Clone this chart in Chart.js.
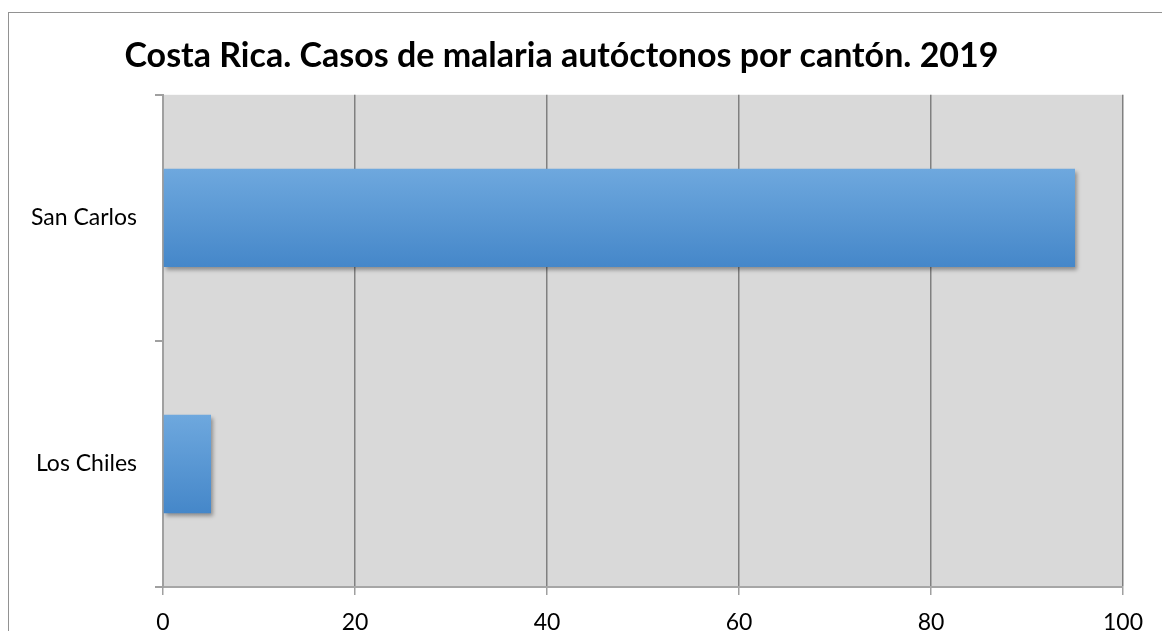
<!DOCTYPE html>
<html>
<head>
<meta charset="utf-8">
<script src="https://cdn.jsdelivr.net/npm/chart.js@4"></script>
<style>
  body { margin: 0; background: #fff; overflow: hidden; }
  #marco {
    position: absolute; left: 8px; top: 12px; width: 2000px; height: 2000px;
    border-left: 1px solid #929292; border-top: 1px solid #929292;
  }
  #wrap { position: absolute; left: 0; top: 0; width: 1176px; height: 631px; }
</style>
</head>
<body>
<div id="marco"></div>
<div id="wrap"><canvas id="chart-1"></canvas></div>
<script>
const cantones = ["San Carlos", "Los Chiles"];
const casos = [95, 5];
const titulo = "Costa Rica. Casos de malaria autóctonos por cantón. 2019";

// fondo gris del área de trazado
const fondoPlot = {
  id: "fondoPlot",
  beforeDraw: (chart) => {
    const { ctx, chartArea } = chart;
    ctx.save();
    ctx.fillStyle = "#d9d9d9";
    ctx.fillRect(chartArea.left, chartArea.top, chartArea.right - chartArea.left, chartArea.bottom - chartArea.top);
    ctx.restore();
  },
};

// sombra de las barras
const sombraBarras = {
  id: "sombraBarras",
  beforeDatasetsDraw: (chart) => {
    const ctx = chart.ctx;
    ctx.save();
    ctx.shadowColor = "rgba(0, 0, 0, 0.35)";
    ctx.shadowOffsetX = 2;
    ctx.shadowOffsetY = 3;
    ctx.shadowBlur = 4;
  },
  afterDatasetsDraw: (chart) => {
    chart.ctx.restore();
  },
};

let degradado = (c) => {
  const chart = c.chart;
  const y = chart.scales.y;
  if (!chart.chartArea || !y) return "#5b9bd5";
  const centro = y.getPixelForValue(c.dataIndex);
  const alto = (y.height / cantones.length) * 0.4;
  const g = chart.ctx.createLinearGradient(0, centro - alto / 2, 0, centro + alto / 2);
  g.addColorStop(0, "#6ea8de");
  g.addColorStop(1, "#4587c9");
  return g;
};

const ctx1 = document.getElementById("chart-1");
const myChart1 = new Chart(ctx1, {
  type: "bar",
  data: {
    labels: cantones,
    datasets: [
      {
        label: "Casos",
        data: casos,
        backgroundColor: degradado,
        borderWidth: 0,
        categoryPercentage: 1,
        barPercentage: 0.4,
      },
    ],
  },
  options: {
    indexAxis: "y",
    responsive: true,
    maintainAspectRatio: false,
    animation: false,
    layout: { padding: { left: 0, right: 53, top: 0, bottom: 0 } },
    plugins: {
      legend: { display: false },
      tooltip: { enabled: false },
      title: {
        display: true,
        text: titulo,
        color: "#000",
        font: { size: 34, family: "Lato", weight: "bold", lineHeight: 1.2 },
        padding: { top: 36, bottom: 18 },
      },
    },
    scales: {
      x: {
        min: 0,
        max: 100,
        ticks: {
          stepSize: 20,
          color: "#000",
          padding: 14,
          font: { size: 23, family: "Lato" },
        },
        grid: { color: "#808080", lineWidth: 1.5, tickLength: 8, tickColor: "#a0a0a0" },
        border: { color: "#a6a6a6", width: 2 },
        afterFit: (scale) => { scale.height = 44; },
      },
      y: {
        ticks: {
          color: "#000",
          padding: 18,
          font: { size: 23, family: "Lato" },
        },
        grid: { offset: true, drawOnChartArea: false, tickLength: 8, color: "#a0a0a0", lineWidth: 2 },
        border: { color: "#a0a0a0", width: 2 },
        afterFit: (scale) => { scale.width = 163; },
      },
    },
  },
  plugins: [fondoPlot, sombraBarras],
});
</script>
</body>
</html>
